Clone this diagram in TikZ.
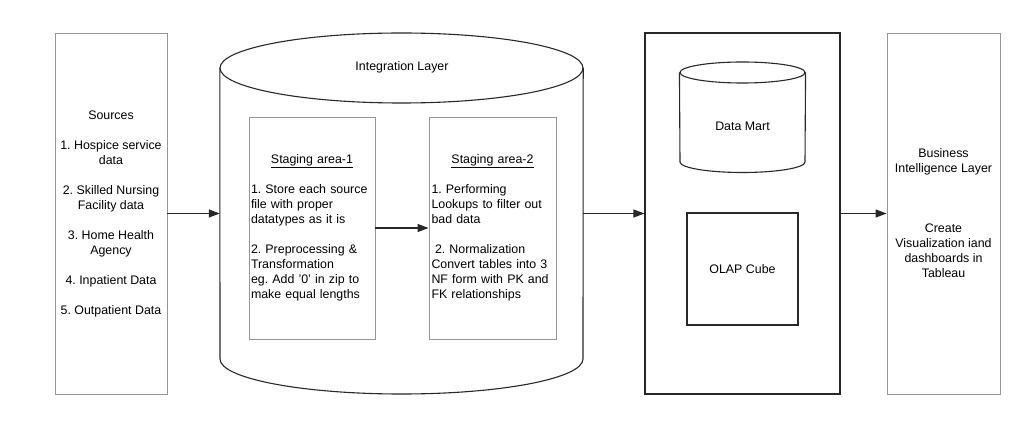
\documentclass[tikz,border=0pt]{standalone}
\usepackage{fontspec}
\setmainfont{Liberation Sans}
\usepackage{tikz}
\usetikzlibrary{positioning,calc,arrows.meta,shapes.geometric}
\frenchspacing

\definecolor{linegray}{RGB}{40,40,40}
\definecolor{boxgray}{RGB}{150,150,150}

\tikzset{
  panel/.style={draw=boxgray, line width=0.9pt, rectangle, inner sep=0pt},
  heavy/.style={draw=linegray, line width=1.1pt},
  flow/.style={linegray, line width=1.2pt, -{Triangle[length=11pt,width=8pt]}},
  label text/.style={font=\fontsize{12.4}{15}\selectfont, text=black}
}

\begin{document}
\begin{tikzpicture}[x=1pt,y=1pt]
    \useasboundingbox (0,0) rectangle (1036,434);

    % sources
    \node[panel, minimum width=112pt, minimum height=361pt] (src) at (111,220.5) {};
    \node[label text, align=center] (srctext) at (src) {Sources\\[15pt]
        1. Hospice service\\data\\[15pt]
        2. Skilled Nursing\\Facility data\\[15pt]
        3. Home Health\\Agency\\[15pt]
        4. Inpatient Data\\[15pt]
        5. Outpatient Data};

    % integration layer cylinder
    \node[minimum width=363pt, minimum height=361pt, inner sep=0pt] (integ) at (401.5,220.5) {};
    \node[heavy, ellipse, inner sep=0pt, minimum width=363pt, minimum height=70pt] (integtop) at (401.5,366) {};
    \draw[heavy] (integ.west |- integtop.center) -- (220,75)
        arc[start angle=180, end angle=360, x radius=181.5pt, y radius=35pt]
        -- (integ.east |- integtop.center);
    \node[label text] (integlabel) at (402,367) {Integration Layer};

    % staging areas
    \node[panel, minimum width=126pt, minimum height=222pt] (stage1) at (312,206) {};
    \node[label text, align=left, text width=122pt] at (stage1) {\hfill\underline{Staging area-1}\hfill\null\\[15pt]
        1. Store each source\\file with proper\\datatypes as it is\\[15pt]
        2. Preprocessing \&\\Transformation\\eg. Add '0' in zip to\\make equal lengths};

    \node[panel, minimum width=127pt, minimum height=222pt] (stage2) at (492.5,206) {};
    \node[label text, align=left, text width=122pt] at (stage2) {\hfill\underline{Staging area-2}\hfill\null\\[15pt]
        1. Performing\\Lookups to filter out\\bad data\\[15pt]
        \hspace{3.5pt}2. Normalization\\Convert tables into 3\\NF form with PK and\\FK relationships};

    % data warehouse
    \node[heavy, rectangle, inner sep=0pt, minimum width=195pt, minimum height=361pt] (dw) at (742.5,220.5) {};
    \node[heavy, ellipse, inner sep=0pt, minimum width=125pt, minimum height=21pt] (marttop) at (742.5,361.5) {};
    \draw[heavy] (marttop.west) -- (680,272)
        arc[start angle=180, end angle=360, x radius=62.5pt, y radius=10.5pt]
        -- (marttop.east);
    \node[label text] (mart) at (742.5,308) {Data Mart};
    \node[heavy, rectangle, inner sep=0pt, minimum width=111pt, minimum height=112pt, label text] (olap) at (742.5,165) {OLAP Cube};

    % business intelligence
    \node[panel, minimum width=113pt, minimum height=361pt] (bi) at (943.5,220.5) {};
    \node[label text, align=center] at (bi) {Business\\Intelligence Layer\\[45pt]
        Create\\Visualization iand\\dashboards in\\Tableau};

    % flows
    \draw[flow] (src.east) -- (integ.west);
    \draw[flow] (stage1.east) -- (stage2.west);
    \draw[flow] (integ.east) -- (dw.west);
    \draw[flow] (dw.east) -- (bi.west);
\end{tikzpicture}
\end{document}
